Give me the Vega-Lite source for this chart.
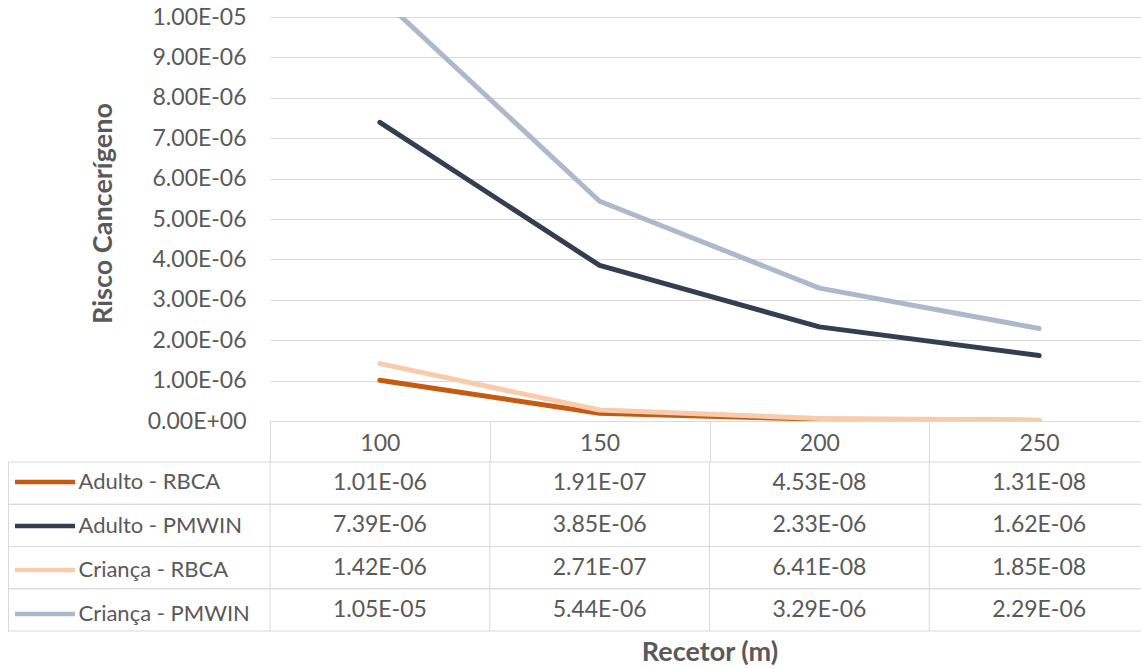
{
  "$schema": "https://vega.github.io/schema/vega-lite/v6.json",
  "padding": {"left": 7, "top": 6, "right": 0, "bottom": 0},
  "background": "white",
  "config": {
    "font": "Lato",
    "view": {"stroke": null},
    "axis": {
      "labelFont": "Lato", "labelFontSize": 23, "labelColor": "#595959",
      "titleFont": "Lato", "titleFontSize": 27, "titleFontWeight": "bold", "titleColor": "#595959",
      "gridColor": "#D9D9D9", "domainColor": "#D9D9D9", "tickColor": "#D9D9D9"
    },
    "legend": {"labelFont": "Lato"}
  },
  "datasets": {
    "risk": [
      {"serie": "Adulto - RBCA", "recetor": 100, "v": 1.01e-6},
      {"serie": "Adulto - RBCA", "recetor": 150, "v": 1.91e-7},
      {"serie": "Adulto - RBCA", "recetor": 200, "v": 4.53e-8},
      {"serie": "Adulto - RBCA", "recetor": 250, "v": 1.31e-8},
      {"serie": "Adulto - PMWIN", "recetor": 100, "v": 7.39e-6},
      {"serie": "Adulto - PMWIN", "recetor": 150, "v": 3.85e-6},
      {"serie": "Adulto - PMWIN", "recetor": 200, "v": 2.33e-6},
      {"serie": "Adulto - PMWIN", "recetor": 250, "v": 1.62e-6},
      {"serie": "Criança - RBCA", "recetor": 100, "v": 1.42e-6},
      {"serie": "Criança - RBCA", "recetor": 150, "v": 2.71e-7},
      {"serie": "Criança - RBCA", "recetor": 200, "v": 6.41e-8},
      {"serie": "Criança - RBCA", "recetor": 250, "v": 1.85e-8},
      {"serie": "Criança - PMWIN", "recetor": 100, "v": 1.05e-5},
      {"serie": "Criança - PMWIN", "recetor": 150, "v": 5.44e-6},
      {"serie": "Criança - PMWIN", "recetor": 200, "v": 3.29e-6},
      {"serie": "Criança - PMWIN", "recetor": 250, "v": 2.29e-6}
    ]
  },
  "columns": 2,
  "spacing": {"row": 41, "column": 0},
  "bounds": "flush",
  "concat": [
    {
      "width": 262, "height": 404,
      "data": {"values": [{"a": 1}]},
      "mark": {"type": "point", "opacity": 0},
      "encoding": {}
    },
    {
      "width": 879, "height": 404,
      "data": {"name": "risk"},
      "mark": {"type": "line", "strokeWidth": 5, "strokeCap": "round", "strokeJoin": "round", "clip": true},
      "encoding": {
        "x": {
          "field": "recetor", "type": "ordinal", "bandPosition": 0.5,
          "scale": {"type": "band", "domain": [100, 150, 200, 250], "paddingInner": 0, "paddingOuter": 0},
          "axis": {"title": null, "tickBand": "extent", "tickSize": 41, "labelPadding": -30, "labelAngle": 0, "grid": false, "ticks": true, "domain": true}
        },
        "y": {
          "field": "v", "type": "quantitative",
          "scale": {"domain": [0, 0.00001], "nice": false, "zero": true},
          "axis": {
            "title": "Risco Cancerígeno",
            "values": [0, 1e-6, 2e-6, 3e-6, 4e-6, 5e-6, 6e-6, 7e-6, 8e-6, 9e-6, 1e-5],
            "labelExpr": "datum.value == 0 ? '0.00E+00' : replace(format(datum.value, '.2e'), 'e-', 'E-0')",
            "domain": false, "ticks": false, "grid": true, "labelPadding": 24, "titlePadding": 30, "titleY": 196
          }
        },
        "color": {
          "field": "serie", "type": "nominal",
          "scale": {
            "domain": ["Adulto - RBCA", "Adulto - PMWIN", "Criança - RBCA", "Criança - PMWIN"],
            "range": ["#C55A11", "#333F50", "#F8CBAD", "#ADB9CA"]
          },
          "legend": {
            "orient": "none", "legendX": 4.5, "legendY": 432.4, "title": null,
            "symbolType": "stroke", "symbolSize": 3600, "symbolStrokeWidth": 4.5,
            "labelFontSize": 22, "labelColor": "#595959", "labelOffset": 1, "labelLimit": 400,
            "rowPadding": -1.3, "padding": 0
          }
        }
      }
    },
    {
      "width": 262, "height": 169,
      "data": {"name": "risk"},
      "transform": [{"aggregate": [{"op": "count", "as": "n"}], "groupby": ["serie"]}],
      "encoding": {
        "y": {
          "field": "serie", "type": "nominal",
          "scale": {"type": "band", "domain": ["Adulto - RBCA", "Adulto - PMWIN", "Criança - RBCA", "Criança - PMWIN"], "paddingInner": 0, "paddingOuter": 0},
          "axis": {"title": null, "labels": false, "ticks": false, "domain": true, "grid": false}
        }
      },
      "layer": [
        {"mark": {"type": "rule", "color": "#D9D9D9", "strokeWidth": 1}, "encoding": {"y": {"field": "serie", "type": "nominal", "bandPosition": 0}}},
        {"mark": {"type": "rule", "color": "#D9D9D9", "strokeWidth": 1}, "encoding": {"y": {"field": "serie", "type": "nominal", "bandPosition": 1}}}
      ]
    },
    {
      "width": 879, "height": 169,
      "data": {"name": "risk"},
      "encoding": {
        "x": {
          "field": "recetor", "type": "ordinal",
          "scale": {"type": "band", "domain": [100, 150, 200, 250], "paddingInner": 0, "paddingOuter": 0},
          "axis": {"title": "Recetor (m)", "labels": false, "ticks": false, "domain": false, "grid": false, "titlePadding": 8}
        },
        "y": {
          "field": "serie", "type": "nominal",
          "scale": {"type": "band", "domain": ["Adulto - RBCA", "Adulto - PMWIN", "Criança - RBCA", "Criança - PMWIN"], "paddingInner": 0, "paddingOuter": 0},
          "axis": null
        }
      },
      "layer": [
        {
          "transform": [{"aggregate": [{"op": "count", "as": "n"}], "groupby": ["serie"]}],
          "mark": {"type": "rule", "color": "#D9D9D9", "strokeWidth": 1},
          "encoding": {"x": null, "y": {"field": "serie", "type": "nominal", "bandPosition": 0}}
        },
        {
          "transform": [{"aggregate": [{"op": "count", "as": "n"}], "groupby": ["serie"]}],
          "mark": {"type": "rule", "color": "#D9D9D9", "strokeWidth": 1},
          "encoding": {"x": null, "y": {"field": "serie", "type": "nominal", "bandPosition": 1}}
        },
        {
          "transform": [{"aggregate": [{"op": "count", "as": "n"}], "groupby": ["recetor"]}],
          "mark": {"type": "rule", "color": "#D9D9D9", "strokeWidth": 1},
          "encoding": {"y": null, "x": {"field": "recetor", "type": "ordinal", "bandPosition": 0}}
        },
        {
          "transform": [{"calculate": "replace(format(datum.v, '.2e'), 'e-', 'E-0')", "as": "lbl"}],
          "mark": {"type": "text", "fontSize": 23, "color": "#595959", "font": "Lato"},
          "encoding": {"text": {"field": "lbl"}}
        }
      ]
    }
  ]
}
